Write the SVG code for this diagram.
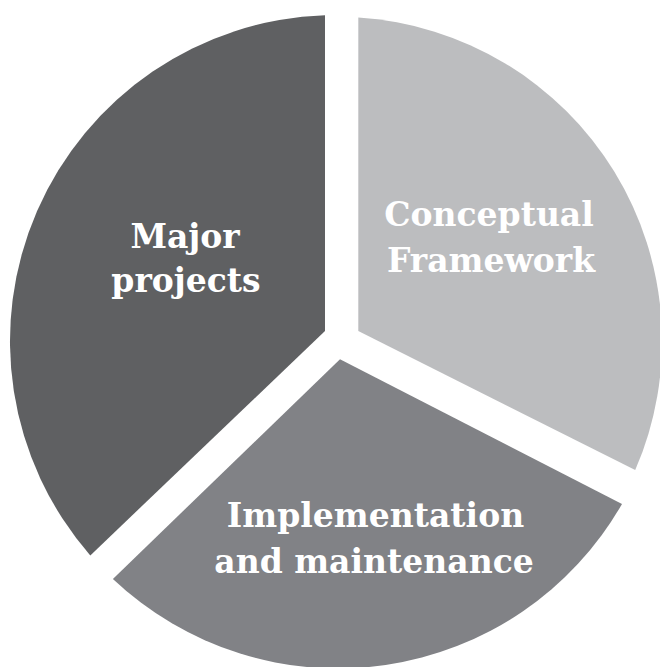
<svg xmlns="http://www.w3.org/2000/svg" width="660" height="667" viewBox="0 0 660 667">
  <style>
    .lbl { font-family: "DejaVu Serif", "Liberation Serif", serif; font-weight: bold; font-size: 33px; fill: #ffffff; text-anchor: middle; }
  </style>
  <rect width="660" height="667" fill="#ffffff"/>
  <g id="major-projects">
    <path d="M325,331 L325,15.3 A326,326 0 0 0 90.3,555.4 Z" fill="#5f6062"/>
    <text class="lbl" x="185" y="248">Major</text>
    <text class="lbl" x="186" y="292">projects</text>
  </g>
  <g id="conceptual-framework">
    <path d="M358.3,331 L358.3,17.6 A324,324 0 0 1 635.2,470.1 Z" fill="#bcbdbf"/>
    <text class="lbl" x="489" y="226">Conceptual</text>
    <text class="lbl" x="491" y="272">Framework</text>
  </g>
  <g id="implementation-maintenance">
    <path d="M340,359.3 L622,504 A327.5,327.5 0 0 1 112.9,578.9 Z" fill="#818286"/>
    <text class="lbl" x="375.5" y="527">Implementation</text>
    <text class="lbl" x="374" y="573">and maintenance</text>
  </g>
  <g id="connectors"></g>
</svg>
